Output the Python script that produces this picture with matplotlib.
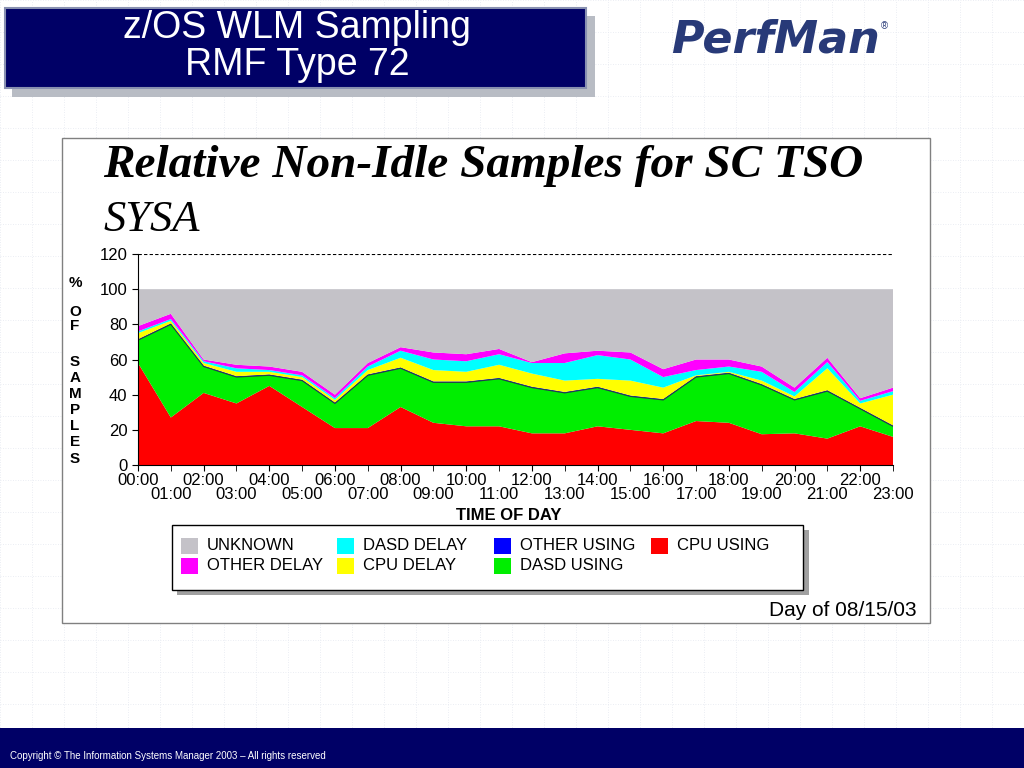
import matplotlib
matplotlib.use("Agg")
import matplotlib.pyplot as plt
from matplotlib.patches import Rectangle
import numpy as np

plt.rcParams['font.family'] = ['Liberation Sans', 'DejaVu Sans']

hours = list(range(24))
hour_labels = [f"{h:02d}:00" for h in hours]
# cumulative tops
cpu_using   = [58,27,41,35,45,33,21,21,33,24,22,22,18,18,22,20,18,25,24,17.5,18,15,22,16]
dasd_top    = [71,80,56,50,51,48,35,51,55,47,47,49,44,41,44,39,37,50,52,45.5,37,42,32,22]
other_using = [0.5]*24
cpu_d_top   = [75,82,58,53,53,50,37,54,61,54,53,57,52,48,49,48,44,51,53,48,39,55,35,40]
dasd_d_top  = [76,83,59,55,54,51,38,56,65,60,59,63,58,58,62.5,60,50,54,56,53,41.5,58.5,36.5,42]
oth_d_top   = [79,86,60,57,56,53,40,58,67,64,63,66,58.5,63.5,65,64,54.5,60,60,56,44,61,38,44]

cpu = np.array(cpu_using)
dasd = np.array(dasd_top) - cpu
ou = np.array(other_using)
cpud = np.clip(np.array(cpu_d_top) - np.array(dasd_top) - ou, 0, None)
dasdd = np.array(dasd_d_top) - np.array(cpu_d_top)
othd = np.array(oth_d_top) - np.array(dasd_d_top)
unknown = 100 - (cpu + dasd + ou + cpud + dasdd + othd)

fig = plt.figure(figsize=(10.24, 7.68), dpi=100)
fig.patch.set_facecolor("white")

for x in np.arange(0, 1024, 32):
    fig.add_artist(plt.Line2D([x/1024]*2, [0.05, 1], color="#e4e8f0", lw=0.6, ls=(0, (1, 2)), zorder=-5))
for y in np.arange(0, 768, 32):
    fig.add_artist(plt.Line2D([0, 1], [1-y/768]*2, color="#e4e8f0", lw=0.6, ls=(0, (1, 2)), zorder=-5))

def rect(x0, y0, x1, y1, z=-3, **kw):
    fig.add_artist(Rectangle((x0/1024, 1-y1/768), (x1-x0)/1024, (y1-y0)/768,
                             transform=fig.transFigure, zorder=z, **kw))

rect(12, 16, 595, 97, facecolor="#b8bcc4", edgecolor="none")
rect(5, 8, 586, 88, facecolor="#000066", edgecolor="#8890b0", lw=1.5)
fig.text(297/1024, 1-28/768, "z/OS WLM Sampling", color="white", fontsize=27, ha="center", va="center")
fig.text(297/1024, 1-65/768, "RMF Type 72", color="white", fontsize=27, ha="center", va="center")
fig.text(775/1024, 1-40/768, "PerfMan", color="#283a78", fontsize=32, fontweight="bold",
         style="italic", ha="center", va="center", family="DejaVu Sans")
fig.text(884/1024, 1-26/768, "®", color="#283a78", fontsize=7, ha="center", va="center")

rect(0, 728, 1024, 768, facecolor="#000066", edgecolor="none")
fig.text(10/1024, 1-756/768, "Copyright © The Information Systems Manager 2003 – All rights reserved",
         color="white", fontsize=7, va="center")

rect(62, 138, 930, 623, facecolor="white", edgecolor="#808080", lw=1)
fig.text(103/1024, 1-166/768, "Relative Non-Idle Samples for SC TSO", family="Liberation Serif",
         fontsize=34, fontweight="bold", style="italic", va="center")
fig.text(103/1024, 1-220/768, "SYSA", family="Liberation Serif", fontsize=32, style="italic", va="center")

ax = fig.add_axes([138/1024, 1-465/768, (893-138)/1024, 211/768])
ax.patch.set_alpha(0)
colors = ["#ff0000", "#00ee00", "#0000ff", "#ffff00", "#00ffff", "#ff00ff", "#c4c2c8"]
ax.stackplot(hours, cpu, dasd, ou, cpud, dasdd, othd, unknown, colors=colors, lw=0)
ax.plot(hours, np.array(dasd_top), color="#204040", lw=0.8)
ax.axhline(120, color="black", ls=(0, (3, 2)), lw=0.8)
ax.set_xlim(0, 23)
ax.set_ylim(0, 120)
ax.set_yticks(range(0, 121, 20))
ax.set_xticks(hours[0::2])
ax.set_xticklabels(hour_labels[0::2], fontsize=12)
ax.set_xticks(hours[1::2], minor=True)
ax.set_xticklabels(hour_labels[1::2], minor=True, fontsize=12)
ax.tick_params(axis="x", which="major", length=4, pad=2)
ax.tick_params(axis="x", which="minor", length=4, pad=12)
ax.tick_params(axis="y", labelsize=12, length=4)
for s in ["top", "right"]:
    ax.spines[s].set_visible(False)
fig.text(509/1024, 1-515/768, "TIME OF DAY", fontsize=12, fontweight="bold", ha="center", va="center")

letters = ["%", "O", "F", "", "S", "A", "M", "P", "L", "E", "S"]
ys = [283, 312, 326, 340, 362, 378, 394, 410, 426, 442, 459]
for l, y in zip(letters, ys):
    if l:
        fig.text(75/1024, 1-y/768, l, fontsize=11, fontweight="bold", ha="center", va="center")

rect(177, 530, 809, 595, facecolor="#a0a0a0", edgecolor="none")
rect(172, 525, 803, 590, z=-2, facecolor="white", edgecolor="black", lw=1)
items = [("UNKNOWN", colors[6], 181, 546), ("DASD DELAY", colors[4], 337, 546),
         ("OTHER USING", colors[2], 494, 546), ("CPU USING", colors[0], 651, 546),
         ("OTHER DELAY", colors[5], 181, 566), ("CPU DELAY", colors[3], 337, 566),
         ("DASD USING", colors[1], 494, 566)]
for name, c, x, y in items:
    rect(x, y-8, x+17, y+8, z=-1, facecolor=c, edgecolor="none")
    fig.text((x+26)/1024, 1-y/768, name, fontsize=12, va="center")

fig.text(917/1024, 1-610/768, "Day of 08/15/03", fontsize=15, ha="right", va="center")

fig.savefig("out.png", dpi=100)
